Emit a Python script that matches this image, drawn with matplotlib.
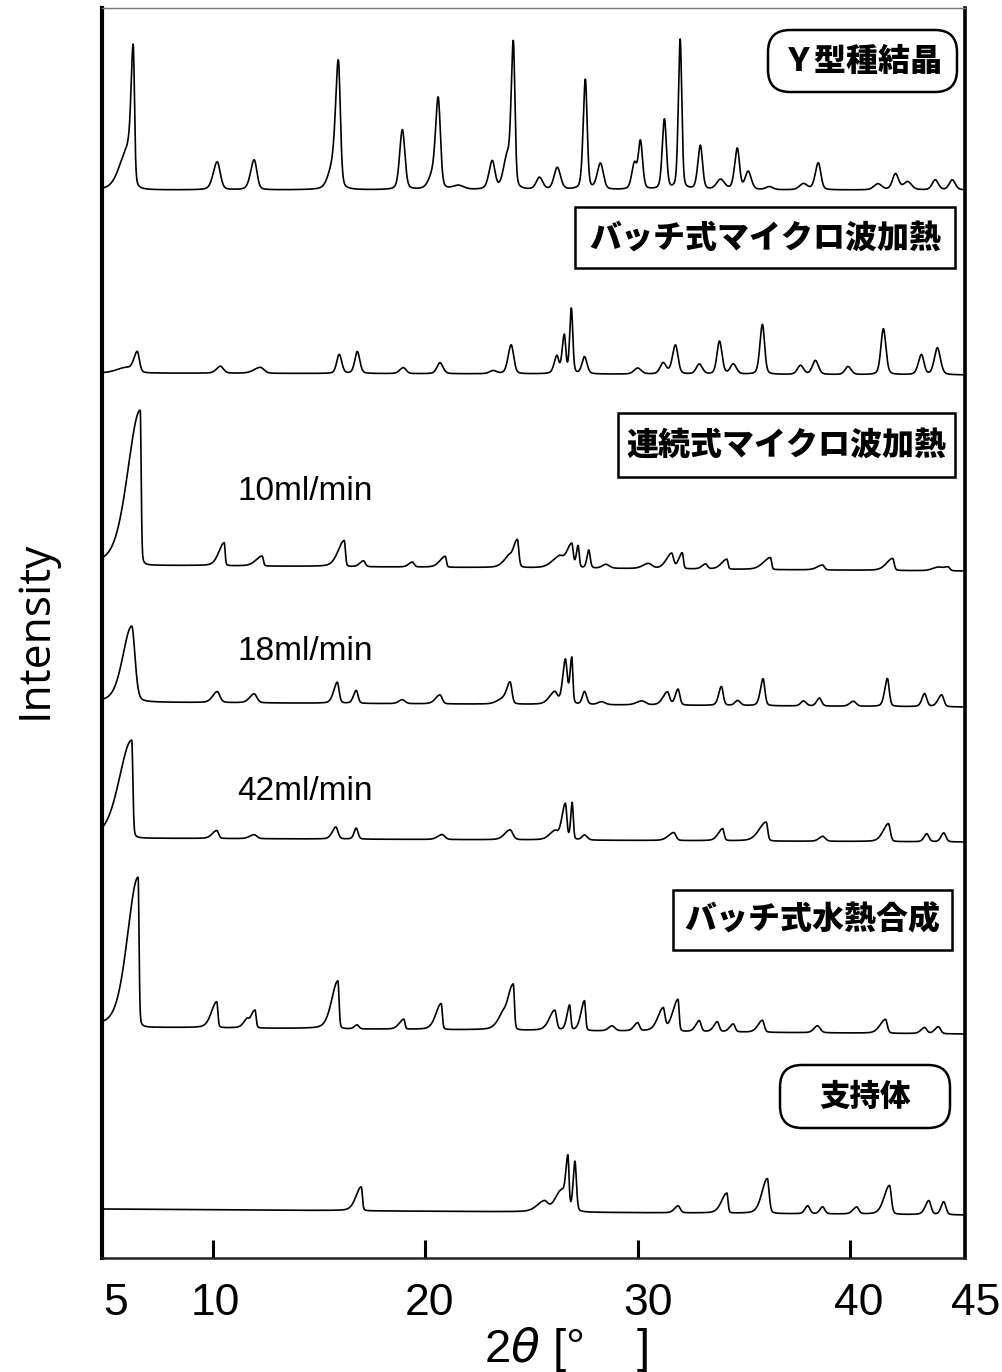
import numpy as np
import matplotlib
matplotlib.use('Agg')
from matplotlib import pyplot as plt
from matplotlib.patches import FancyBboxPatch
from matplotlib.transforms import ScaledTranslation

# 2theta grid (degrees)
two_theta = np.linspace(4.8, 45.4, 4061)

# peak lists: (2theta, height, left HWHM, right HWHM)
y_seed = [
    (6.0, 38, 0.45, 0.2), (6.27, 134, 0.12, 0.07),
    (10.22, 28, 0.22, 0.17), (11.96, 30, 0.2, 0.15),
    (15.65, 20, 0.25, 0.2), (15.92, 124, 0.15, 0.11),
    (18.93, 60, 0.15, 0.14), (20.4, 15, 0.25, 0.2), (20.62, 86, 0.14, 0.12),
    (21.56, 4, 0.3, 0.3), (23.16, 28, 0.18, 0.15),
    (23.85, 30, 0.2, 0.15), (24.15, 146, 0.12, 0.09),
    (25.38, 12, 0.18, 0.18), (26.22, 22, 0.18, 0.18),
    (27.54, 110, 0.12, 0.1), (28.25, 26, 0.18, 0.16),
    (29.85, 25, 0.15, 0.12), (30.13, 48, 0.12, 0.12),
    (31.26, 70, 0.12, 0.11), (32.0, 150, 0.1, 0.09),
    (32.95, 44, 0.14, 0.12), (33.9, 10, 0.22, 0.22),
    (34.69, 41, 0.15, 0.12), (35.2, 18, 0.17, 0.17),
    (36.2, 3, 0.2, 0.2), (37.8, 6, 0.22, 0.22), (38.5, 27, 0.17, 0.14),
    (41.3, 6, 0.22, 0.22), (42.13, 16, 0.17, 0.17), (42.7, 8, 0.22, 0.22),
    (44.0, 10, 0.17, 0.17), (44.8, 10, 0.17, 0.17),
]
batch_mw = [
    (5.9, 5, 0.5, 0.3), (6.46, 21, 0.2, 0.12),
    (10.37, 7, 0.22, 0.17), (12.25, 6, 0.35, 0.2),
    (15.96, 19, 0.14, 0.14), (16.81, 22, 0.14, 0.14),
    (18.98, 6, 0.2, 0.15), (20.7, 11, 0.17, 0.17),
    (23.2, 3, 0.2, 0.2), (24.05, 29, 0.17, 0.14),
    (26.2, 17, 0.15, 0.1), (26.55, 38, 0.12, 0.08), (26.88, 65, 0.09, 0.08),
    (27.5, 17, 0.14, 0.14), (30.0, 6, 0.2, 0.2),
    (31.2, 11, 0.17, 0.17), (31.78, 29, 0.17, 0.14),
    (32.9, 10, 0.17, 0.17), (33.85, 33, 0.14, 0.14), (34.5, 10, 0.17, 0.17),
    (35.87, 50, 0.14, 0.12), (37.66, 9, 0.17, 0.17), (38.36, 14, 0.17, 0.17),
    (39.9, 8, 0.17, 0.17), (41.56, 46, 0.14, 0.14),
    (43.35, 20, 0.17, 0.14), (44.1, 27, 0.17, 0.17),
]
flow_10 = [
    (6.6, 155, 0.7, 0.05),
    (10.55, 23, 0.3, 0.05), (12.34, 10, 0.35, 0.06),
    (16.2, 26, 0.35, 0.06), (17.1, 6, 0.2, 0.1),
    (19.4, 5, 0.2, 0.1), (20.95, 11, 0.3, 0.06),
    (23.9, 8, 0.3, 0.15), (24.34, 28, 0.25, 0.08),
    (26.3, 10, 0.4, 0.2), (26.9, 24, 0.3, 0.08), (27.2, 22, 0.1, 0.06),
    (27.7, 18, 0.1, 0.08), (28.5, 4, 0.2, 0.2),
    (30.5, 5, 0.3, 0.2), (31.6, 15, 0.3, 0.1), (32.1, 16, 0.2, 0.06),
    (33.2, 5, 0.2, 0.1), (34.2, 10, 0.3, 0.06),
    (36.25, 12, 0.4, 0.06), (38.7, 5, 0.3, 0.1),
    (42.0, 12, 0.35, 0.08), (44.1, 3, 0.3, 0.2), (44.6, 4, 0.3, 0.1),
]
flow_18 = [
    (6.2, 76, 0.5, 0.18),
    (10.22, 11, 0.25, 0.15), (11.96, 9, 0.25, 0.15),
    (15.87, 21, 0.2, 0.1), (16.76, 13, 0.15, 0.1),
    (18.93, 4, 0.2, 0.15), (20.7, 9, 0.25, 0.12),
    (23.6, 4, 0.3, 0.2), (24.0, 22, 0.2, 0.1),
    (26.1, 12, 0.3, 0.15), (26.6, 44, 0.15, 0.1), (26.9, 46, 0.1, 0.06),
    (27.5, 13, 0.12, 0.12), (28.3, 3, 0.2, 0.2),
    (30.2, 4, 0.3, 0.2), (31.4, 13, 0.25, 0.12), (31.9, 16, 0.15, 0.1),
    (33.94, 19, 0.15, 0.1), (34.7, 5, 0.15, 0.15),
    (35.9, 27, 0.15, 0.1), (37.8, 5, 0.15, 0.15), (38.55, 8, 0.15, 0.12),
    (40.15, 5, 0.2, 0.15), (41.75, 28, 0.15, 0.1),
    (43.5, 13, 0.15, 0.12), (44.3, 12, 0.2, 0.12),
]
flow_42 = [
    (6.2, 98, 0.7, 0.06),
    (10.2, 8, 0.25, 0.1), (11.96, 4, 0.25, 0.15),
    (15.8, 12, 0.2, 0.12), (16.76, 11, 0.12, 0.1),
    (20.8, 5, 0.25, 0.15), (24.0, 10, 0.3, 0.15),
    (26.1, 8, 0.3, 0.15), (26.6, 36, 0.2, 0.08), (26.92, 37, 0.08, 0.06),
    (27.5, 5, 0.15, 0.15), (31.7, 8, 0.3, 0.12),
    (34.0, 12, 0.25, 0.08), (36.05, 19, 0.4, 0.08),
    (38.7, 5, 0.2, 0.15), (41.8, 18, 0.3, 0.1),
    (43.6, 8, 0.15, 0.12), (44.4, 9, 0.15, 0.12),
]
batch_hydro = [
    (6.5, 150, 0.6, 0.05),
    (10.2, 26, 0.3, 0.06), (11.6, 6, 0.2, 0.1), (12.0, 18, 0.25, 0.06),
    (15.9, 48, 0.35, 0.06), (16.8, 4, 0.15, 0.1),
    (19.0, 10, 0.25, 0.06), (20.76, 26, 0.3, 0.06),
    (23.6, 8, 0.3, 0.15), (24.15, 46, 0.35, 0.06),
    (26.1, 20, 0.3, 0.1), (26.8, 25, 0.15, 0.06), (27.5, 30, 0.2, 0.06),
    (28.8, 5, 0.2, 0.15), (30.0, 8, 0.2, 0.1),
    (31.2, 22, 0.3, 0.1), (31.9, 32, 0.3, 0.06),
    (32.9, 11, 0.2, 0.1), (33.75, 10, 0.2, 0.1), (34.5, 8, 0.2, 0.1),
    (35.87, 12, 0.25, 0.1), (38.46, 7, 0.2, 0.15),
    (41.66, 14, 0.3, 0.1), (43.5, 6, 0.2, 0.12), (44.15, 7, 0.2, 0.12),
]
support = [
    (17.0, 24, 0.3, 0.06),
    (25.6, 10, 0.4, 0.2), (26.4, 20, 0.35, 0.2),
    (26.72, 52, 0.12, 0.06), (27.05, 50, 0.1, 0.08),
    (31.9, 7, 0.2, 0.12), (34.2, 20, 0.3, 0.06), (36.1, 35, 0.3, 0.1),
    (38.0, 8, 0.15, 0.12), (38.7, 7, 0.15, 0.12), (40.3, 7, 0.2, 0.12),
    (41.85, 29, 0.3, 0.1), (43.7, 14, 0.2, 0.12), (44.4, 13, 0.15, 0.12),
]

patterns = [y_seed, batch_mw, flow_10, flow_18, flow_42, batch_hydro, support]
# stacking offsets (start, end) of each baseline
baselines = [(1068, 1068), (885, 883), (693, 687), (556, 551),
             (420, 416), (231, 224), (49, 43)]

boxed_labels = ['Ｙ型種結晶', 'バッチ式マイクロ波加熱', '連続式マイクロ波加熱',
                'バッチ式水熱合成', '支持体']
rate_labels = ['10ml/min', '18ml/min', '42ml/min']

major_ticks = [10, 20, 30, 40]
end_ticks = [5, 45]


def profile(peaks, base, eta=0.3):
    '''Sum of asymmetric pseudo-Voigt peaks on a sloped baseline.'''
    y = np.linspace(base[0], base[1], two_theta.size)
    for pos, h, wl, wr in peaks:
        w = np.where(two_theta < pos, wl, wr)
        d2 = ((two_theta - pos) / w) ** 2
        y = y + h * ((1 - eta) * np.exp(-np.log(2) * d2) + eta / (1 + d2))
    return y


W, H = 1003, 1372
fig = plt.figure(figsize=(W / 100, H / 100), dpi=100)
ax = fig.add_axes([102 / W, 114 / H, 863 / W, 1250 / H])

for peaks, base in zip(patterns, baselines):
    ax.plot(two_theta, profile(peaks, base), color='black', lw=1.2)

ax.set_xlim(4.8, 45.4)
ax.set_ylim(0, 1250)
ax.set_yticks([])

num_font = ['Liberation Sans', 'DejaVu Sans']
ax.set_xticks(major_ticks, [str(t) for t in major_ticks])
ax.set_xticks(end_ticks, [str(t) for t in end_ticks], minor=True)
ax.tick_params(axis='x', which='major', direction='in', length=13, width=2.2,
               pad=18, labelsize=32)
ax.tick_params(axis='x', which='minor', length=0, pad=18, labelsize=32)
# nudge the numbers a little to the right, as printed
shifts = {5: 9, 10: 3, 20: 4, 30: 10, 40: 8, 45: 19}
for lab, val in zip(ax.get_xticklabels() + ax.get_xticklabels(minor=True),
                    major_ticks + end_ticks):
    lab.set_fontfamily(num_font)
    lab.set_transform(lab.get_transform() +
                      ScaledTranslation(shifts[val] / 100, 0, fig.dpi_scale_trans))

ax.spines['left'].set_linewidth(3)
ax.spines['right'].set_linewidth(2.6)
ax.spines['top'].set_linewidth(1)
ax.spines['top'].set_color('#777777')
ax.spines['bottom'].set_linewidth(1.8)
ax.spines['bottom'].set_color('#222222')

fig.text(35 / W, 1 - 630 / H, 'Intensity', rotation=90, ha='center', va='center',
         fontsize=32, family=['Open Sans', 'DejaVu Sans'], color='black')
fig.text(566 / W, 1 - 1350 / H, '2$\\theta$ [°    ]', ha='center', va='center',
         fontsize=34, family=num_font)

inch = fig.dpi_scale_trans
jp = ['Noto Sans CJK JP', 'DejaVu Sans']


def label_box(text, x0, y0, x1, y1, rounded=False, size=23):
    style = 'round,pad=0,rounding_size=0.22' if rounded else 'square,pad=0'
    box = FancyBboxPatch((x0 / 100, (H - y1) / 100), (x1 - x0) / 100,
                         (y1 - y0) / 100, boxstyle=style, transform=inch,
                         facecolor='white', edgecolor='black', lw=1.8, zorder=5)
    fig.add_artist(box)
    fig.text((x0 + x1) / 200, (H - (y0 + y1) / 2) / 100, text, transform=inch,
             ha='center', va='center', fontsize=size, fontweight='heavy',
             family=jp, zorder=6)


label_box(boxed_labels[0], 768, 30, 957, 92, rounded=True)
label_box(boxed_labels[1], 575, 207, 955, 268)
label_box(boxed_labels[2], 618, 413, 955, 477)
label_box(boxed_labels[3], 673, 890, 952, 950)
label_box(boxed_labels[4], 780, 1065, 950, 1128, rounded=True, size=22)

for text, yc in zip(rate_labels, [492, 651, 792]):
    fig.text(237 / 100, (H - yc) / 100, text, transform=inch, ha='left',
             va='center', fontsize=24, family=['Liberation Sans', 'DejaVu Sans'])

fig.savefig('out.png', dpi=100)
